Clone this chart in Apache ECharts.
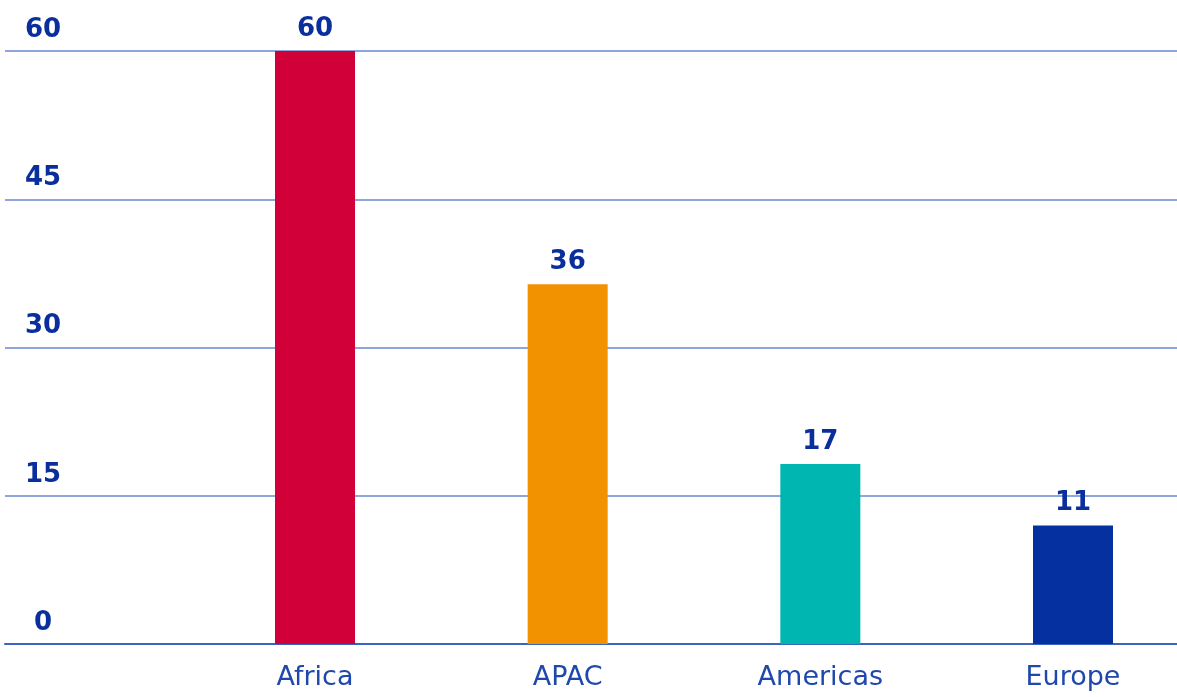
<!DOCTYPE html>
<html>
<head>
<meta charset="utf-8">
<script src="https://cdn.jsdelivr.net/npm/echarts@6/dist/echarts.min.js"></script>
<style>html,body{margin:0;padding:0;background:#fff}#c{width:1177px;height:697px}</style>
</head>
<body>
<div id="c"></div>
<script>
const categories = ["Africa", "APAC", "Americas", "Europe"];
const values = [60, 36.4, 18.2, 12];
const valueLabels = ["60", "36", "17", "11"];
const barColors = ["#D10038", "#F39200", "#00B6B1", "#0530A0"];
const yTicks = [0, 15, 30, 45, 60];

const FONT = "DejaVu Sans";
const chart = echarts.init(document.getElementById('c'), null, {renderer: 'canvas'});
chart.setOption({
  animation: false,
  grid: [
    {left: 5, right: 0, top: 51, bottom: 53},
    {left: 315, right: 104, top: 51, bottom: 53}
  ],
  xAxis: [
    {gridIndex: 0, type: 'category', data: categories,
     axisLine: {show: true, lineStyle: {color: '#3D63C0', width: 2}},
     axisTick: {show: false}, axisLabel: {show: false}},
    {gridIndex: 1, type: 'category', data: categories, boundaryGap: false,
     axisLine: {show: false}, axisTick: {show: false},
     axisLabel: {color: '#1F48AB', fontFamily: FONT, fontSize: 27, margin: 20}}
  ],
  yAxis: [
    {gridIndex: 0, type: 'value', min: yTicks[0], max: yTicks[yTicks.length - 1], interval: 15,
     axisLine: {show: false}, axisTick: {show: false},
     splitLine: {lineStyle: {color: '#8EA6DC', width: 2}},
     axisLabel: {color: '#0A2F9C', fontFamily: FONT, fontWeight: 'bold', fontSize: 26,
                 align: 'center', verticalAlign: 'bottom', margin: -38, padding: [0, 0, 8, 0]}},
    {gridIndex: 1, type: 'value', min: yTicks[0], max: yTicks[yTicks.length - 1], interval: 15,
     show: false, splitLine: {show: false}}
  ],
  series: [{
    type: 'bar', xAxisIndex: 1, yAxisIndex: 1,
    barWidth: 80,
    data: values.map((v, i) => ({value: v, itemStyle: {color: barColors[i]}})),
    label: {show: true, position: 'top', distance: 9,
            formatter: p => valueLabels[p.dataIndex],
            color: '#0A2F9C', fontFamily: FONT, fontWeight: 'bold', fontSize: 26}
  }]
});
</script>
</body>
</html>
